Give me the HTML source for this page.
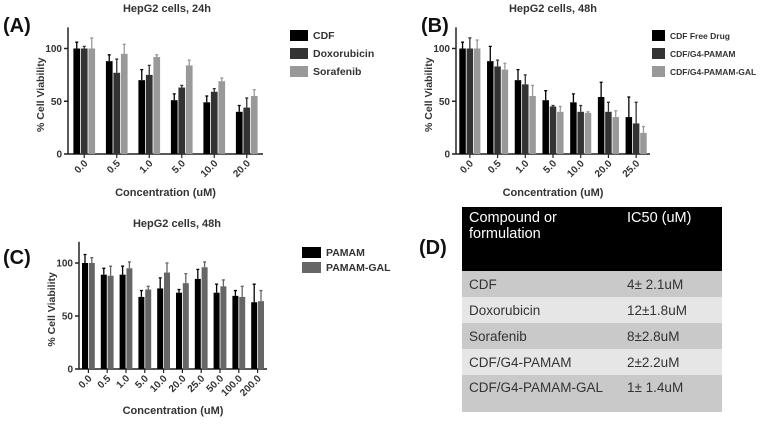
<!DOCTYPE html>
<html><head><meta charset="utf-8">
<style>
html,body{margin:0;padding:0;background:#fff;}
body{width:767px;height:419px;position:relative;overflow:hidden;font-family:"Liberation Sans",sans-serif;}
svg text{font-family:"Liberation Sans",sans-serif;}
.tbl{position:absolute;left:462px;top:207px;width:260px;border-collapse:collapse;font-family:"Liberation Sans",sans-serif;font-size:13.5px;color:#333;}
.tbl td{padding:0 0 0 7px;height:26px;vertical-align:middle;}
.tbl td:nth-child(2){padding-left:0;}
</style></head><body>
<svg id="fig" width="767" height="419" xmlns="http://www.w3.org/2000/svg"></svg>
<table class="tbl">
<tr style="background:#000;color:#fff;height:64px"><td style="width:158px;vertical-align:top;padding-top:3px;height:61px;font-size:14.5px">Compound or<br>formulation</td><td style="vertical-align:top;padding-top:3px;font-size:14.5px">IC50 (uM)</td></tr>
<tr style="background:#c9c9c9"><td>CDF</td><td>4± 2.1uM</td></tr>
<tr style="background:#e6e6e6"><td>Doxorubicin</td><td>12±1.8uM</td></tr>
<tr style="background:#c9c9c9"><td>Sorafenib</td><td>8±2.8uM</td></tr>
<tr style="background:#e6e6e6"><td>CDF/G4-PAMAM</td><td>2±2.2uM</td></tr>
<tr style="background:#c9c9c9"><td style="vertical-align:top;padding-top:5px;height:32px">CDF/G4-PAMAM-GAL</td><td style="vertical-align:top;padding-top:5px">1± 1.4uM</td></tr>
</table>
<script>
// Panel A data
const catsA = ["0.0","0.5","1.0","5.0","10.0","20.0"];
const namesA = ["CDF","Doxorubicin","Sorafenib"];
const cdfA = [100,88,70,51,49,40];
const doxA = [100,77,75,63,59,44];
const sorA = [100,95,92,84,69,55];
const cdfErrA = [6,6,10,6,6,6];
const doxErrA = [2,13,9,2,3,9];
const sorErrA = [10,9,2,5,3,6];
// Panel B data
const catsB = ["0.0","0.5","1.0","5.0","10.0","20.0","25.0"];
const namesB = ["CDF Free Drug","CDF/G4-PAMAM","CDF/G4-PAMAM-GAL"];
const freeB = [100,88,70,51,49,54,35];
const pamB = [100,83,66,45,40,40,29];
const galB = [100,80,55,40,39,35,20];
const freeErrB = [6,14,10,9,8,14,19];
const pamErrB = [10,6,9,1,6,9,20];
const galErrB = [8,6,10,5,1,6,6];
// Panel C data
const catsC = ["0.0","0.5","1.0","5.0","10.0","20.0","25.0","50.0","100.0","200.0"];
const namesC = ["PAMAM","PAMAM-GAL"];
const pamC = [100,89,89,68,76,72,85,72,69,63];
const galC = [100,88,95,75,91,81,96,78,68,64];
const pamErrC = [8,6,8,6,10,3,9,8,5,17];
const galErrC = [5,9,6,3,9,9,5,6,10,10];
const yTicks = [0,50,100];

const NS="http://www.w3.org/2000/svg";
const svg=document.getElementById('fig');
function mk(tag,attrs,parent){const e=document.createElementNS(NS,tag);for(const k in attrs)e.setAttribute(k,attrs[k]);(parent||svg).appendChild(e);return e;}
function txt(x,y,s,size,anchor,parent,extra){const t=mk('text',Object.assign({x:x,y:y,'font-size':size,'font-weight':'bold','text-anchor':anchor||'middle',fill:'#333'},extra||{}),parent);t.textContent=s;return t;}

function panel(cfg){
  const g=mk('g',{});
  
  
  const yS=v=>cfg.base-(v/100)*(cfg.base-cfg.y100);
  const n=cfg.cats.length, gw=(cfg.x1-cfg.x0)/n, ns=cfg.series.length;
  const xS=i=>cfg.x0+(i+0.5)*gw;
  // axes
  const ya=mk('line',{x1:cfg.x0,y1:yS(120),x2:cfg.x0,y2:cfg.base,stroke:'#222','stroke-width':1.5},g);
  
  
  const xa=mk('line',{x1:cfg.x0,y1:cfg.base,x2:cfg.x1,y2:cfg.base,stroke:'#222','stroke-width':1.5},g);
  
  
  yTicks.forEach(t=>{
    mk('line',{x1:cfg.x0-4,y1:yS(t),x2:cfg.x0,y2:yS(t),stroke:'#222','stroke-width':1.5},g);
    const l=txt(cfg.x0-6,yS(t)+3.5,String(t),10,'end',g);
    
    
  });
  cfg.cats.forEach((c,i)=>{
    mk('line',{x1:xS(i),y1:cfg.base,x2:xS(i),y2:cfg.base+4,stroke:'#222','stroke-width':1.2},g);
    const l=txt(xS(i)+4,cfg.base+10,c,10,'end',g,{transform:`rotate(-45 ${xS(i)+4} ${cfg.base+10})`});
    
    
  });
  cfg.series.forEach((s,k)=>{
    s.vals.forEach((v,i)=>{
      const bx=xS(i)-ns*cfg.bw/2+k*cfg.bw;
      const r=mk('rect',{x:bx+0.4,y:yS(v),width:cfg.bw-0.8,height:cfg.base-yS(v),fill:s.color},g);
      
      
      const cx=bx+cfg.bw/2, ey=yS(v+s.err[i]);
      const e=mk('path',{d:`M${cx} ${yS(v)}V${ey}M${cx-1.5} ${ey}H${cx+1.5}`,stroke:s.color,'stroke-width':1.3,fill:'none'},g);
      
      
    });
    const sw=mk('rect',{x:cfg.lx,y:cfg.ly+k*cfg.ld-5,width:cfg.lw,height:11,fill:s.color},g);
    
    
    const lt=txt(cfg.lx+cfg.lw+5,cfg.ly+k*cfg.ld+4,s.label,cfg.lfs,'start',g);
    
    
  });
  const mid=(cfg.x0+cfg.x1)/2;
  const ti=txt(cfg.tx,cfg.ty,cfg.title,11,'middle',g);
  
  
  const xt=txt(mid,cfg.xty,'Concentration (uM)',11,'middle',g);
  
  
  const yy=(yS(120)+cfg.base)/2+4;
  const yt=txt(cfg.x0-24,yy,'% Cell Viability',10.5,'middle',g,{transform:`rotate(-90 ${cfg.x0-24} ${yy})`});
  
  
  const pl=txt(cfg.px,cfg.py,cfg.plabel,20,'start',g,{fill:'#111'});
  
  
}
panel({name:'chart-a',cats:catsA,x0:68,x1:263,base:154,y100:48.5,bw:7.5,
  series:[{key:'cdf',label:namesA[0],vals:cdfA,err:cdfErrA,color:'#000'},{key:'dox',label:namesA[1],vals:doxA,err:doxErrA,color:'#333'},{key:'sor',label:namesA[2],vals:sorA,err:sorErrA,color:'#999'}],
  lx:290,ly:35,ld:18,lw:18,lfs:10.5,title:'HepG2 cells, 24h',tx:167,ty:12,xty:196,plabel:'(A)',px:3,py:32});
panel({name:'chart-b',cats:catsB,x0:456,x1:650,base:154,y100:48.5,bw:7.3,
  series:[{key:'free',label:namesB[0],vals:freeB,err:freeErrB,color:'#000'},{key:'pamam',label:namesB[1],vals:pamB,err:pamErrB,color:'#333'},{key:'gal',label:namesB[2],vals:galB,err:galErrB,color:'#999'}],
  lx:652,ly:35,ld:18,lw:13,lfs:8.5,title:'HepG2 cells, 48h',tx:553,ty:12,xty:196,plabel:'(B)',px:421,py:32});
panel({name:'chart-c',cats:catsC,x0:79,x1:267,base:369,y100:263,bw:6.8,
  series:[{key:'pamam',label:namesC[0],vals:pamC,err:pamErrC,color:'#000'},{key:'gal',label:namesC[1],vals:galC,err:galErrC,color:'#666'}],
  lx:302,ly:252,ld:15,lw:19,lfs:10.5,title:'HepG2 cells, 48h',tx:177,ty:227,xty:414,plabel:'(C)',px:3,py:264});
const dl=txt(419,254,'(D)',20,'start',svg,{fill:'#111'});


</script>
</body></html>
